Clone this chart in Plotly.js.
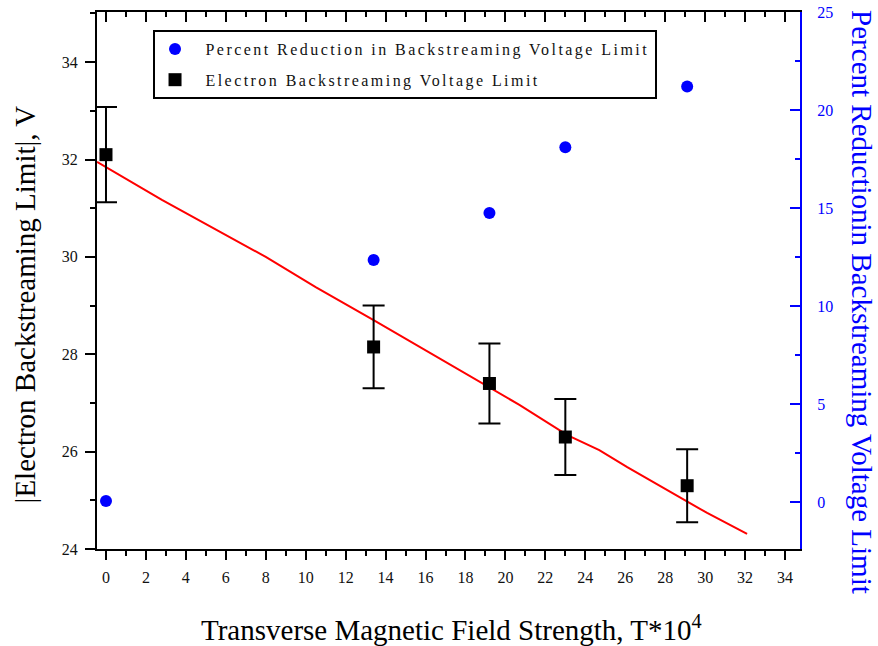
<!DOCTYPE html>
<html>
<head>
<meta charset="utf-8">
<script src="https://cdn.plot.ly/plotly-3.0.1.min.js"></script>
<style>
body{margin:0;padding:0;background:#fff;}
#chart{width:878px;height:646px;}
.legendtext{letter-spacing:2.45px;}
</style>
</head>
<body>
<div id="chart"></div>
<script>
// Data
var fieldStrength = [0, 13.4, 19.2, 23.0, 29.1];
var voltageLimit = [32.1, 28.15, 27.4, 26.3, 25.3];
var voltageError = [0.98, 0.85, 0.82, 0.78, 0.75];
var percentReduction = [0.05, 12.35, 14.75, 18.1, 21.2];
var fitX = [-0.45, 2.8, 8.0, 10.5, 13.4, 15.7, 20.7, 23.1, 24.7, 26.1, 29.1, 30.1, 32.1];
var fitY = [31.95, 31.17, 30.0, 29.38, 28.70, 28.15, 26.96, 26.34, 26.03, 25.68, 24.97, 24.74, 24.31];
var xTickVals = [0,2,4,6,8,10,12,14,16,18,20,22,24,26,28,30,32,34];
var serif = 'Liberation Serif, Times New Roman, serif';

var traces = [
  {
    x: fieldStrength, y: percentReduction, yaxis: 'y2', xaxis: 'x',
    type: 'scatter', mode: 'markers', legendgroup: 'a',
    name: '\u2002Percent Reduction in Backstreaming Voltage Limit',
    marker: {symbol: 'circle', size: 12, color: '#0000ff'}
  },
  {
    x: fitX, y: fitY, type: 'scatter', mode: 'lines',
    line: {color: '#ff0000', width: 2}, showlegend: false, hoverinfo: 'skip'
  },
  {
    x: fieldStrength, y: voltageLimit, type: 'scatter', mode: 'markers', legendgroup: 'b',
    name: '\u2002Electron Backstreaming Voltage Limit',
    marker: {symbol: 'square', size: 13, color: '#000000'},
    error_y: {type: 'data', array: voltageError, visible: true, color: '#000', thickness: 2, width: 11}
  },
  {
    x: [0], y: [30], xaxis: 'x2', yaxis: 'y', type: 'scatter', mode: 'markers',
    marker: {opacity: 0}, showlegend: false, hoverinfo: 'skip'
  }
];

var layout = {
  width: 878, height: 646,
  margin: {l: 97, r: 78, t: 12, b: 97},
  paper_bgcolor: '#fff', plot_bgcolor: '#fff',
  font: {family: serif, color: '#000', size: 16},
  showlegend: true,
  legend: {
    x: 0.0797, y: 0.9665, xanchor: 'left', yanchor: 'top',
    bordercolor: '#000', borderwidth: 2, bgcolor: '#fff',
    font: {family: serif, size: 16, color: '#111'},
    itemwidth: 30, traceorder: 'grouped', tracegroupgap: 7
  },
  xaxis: {
    range: [-0.45, 34.75], tickvals: xTickVals, ticktext: xTickVals.map(String),
    ticks: 'outside', ticklen: 9, tickwidth: 2, tickcolor: '#000',
    showline: true, linewidth: 2, linecolor: '#000', zeroline: false, showgrid: false,
    tickfont: {family: serif, size: 16, color: '#111'},
    minor: {dtick: 1, tick0: 0, ticks: 'outside', ticklen: 5, tickwidth: 2, tickcolor: '#000', showgrid: false},
    ticklabelstandoff: 4,
    anchor: 'y'
  },
  xaxis2: {
    overlaying: 'x', side: 'top', matches: 'x', range: [-0.45, 34.75],
    tickvals: xTickVals, showticklabels: false,
    ticks: 'inside', ticklen: 10, tickwidth: 2, tickcolor: '#000',
    showline: true, linewidth: 2, linecolor: '#000', zeroline: false, showgrid: false,
    minor: {dtick: 1, tick0: 0, ticks: 'inside', ticklen: 5, tickwidth: 2, tickcolor: '#000', showgrid: false},
    anchor: 'y'
  },
  yaxis: {
    range: [24, 35.03], dtick: 2, tick0: 24,
    ticks: 'outside', ticklen: 10, tickwidth: 2, tickcolor: '#000',
    showline: true, linewidth: 2, linecolor: '#000', zeroline: false, showgrid: false,
    tickfont: {family: serif, size: 16, color: '#111'},
    minor: {dtick: 1, ticks: 'outside', ticklen: 5, tickwidth: 2, tickcolor: '#000', showgrid: false},
    ticklabelstandoff: 4
  },
  yaxis2: {
    overlaying: 'y', side: 'right', range: [-2.4, 25], dtick: 5, tick0: 0,
    ticks: 'inside', ticklen: 10, tickwidth: 2, tickcolor: '#0000ff',
    showline: true, linewidth: 2, linecolor: '#0000ff', zeroline: false, showgrid: false,
    tickfont: {family: serif, size: 16, color: '#0000ff'},
    minor: {dtick: 2.5, ticks: 'inside', ticklen: 5, tickwidth: 2, tickcolor: '#0000ff', showgrid: false},
    ticklabelstandoff: 12
  },
  annotations: [
    {
      text: '|Electron Backstreaming Limit|, V', xref: 'paper', yref: 'paper',
      x: -0.102, y: 0.456, textangle: -90, showarrow: false,
      xanchor: 'center', yanchor: 'middle',
      font: {family: serif, size: 29, color: '#000'}
    },
    {
      text: 'Percent Reductionin Backstreaming Voltage Limit', xref: 'paper', yref: 'paper',
      x: 1.088, y: 0.46, textangle: 90, showarrow: false,
      xanchor: 'center', yanchor: 'middle',
      font: {family: serif, size: 29, color: '#0000ff'}
    },
    {
      text: 'Transverse Magnetic Field Strength, T*10<sup>4</sup>', xref: 'paper', yref: 'paper',
      x: 0.504, y: -0.147, showarrow: false, xanchor: 'center', yanchor: 'middle',
      font: {family: serif, size: 29, color: '#000'}
    }
  ]
};

Plotly.newPlot('chart', traces, layout, {staticPlot: true, displayModeBar: false});
</script>
</body>
</html>
